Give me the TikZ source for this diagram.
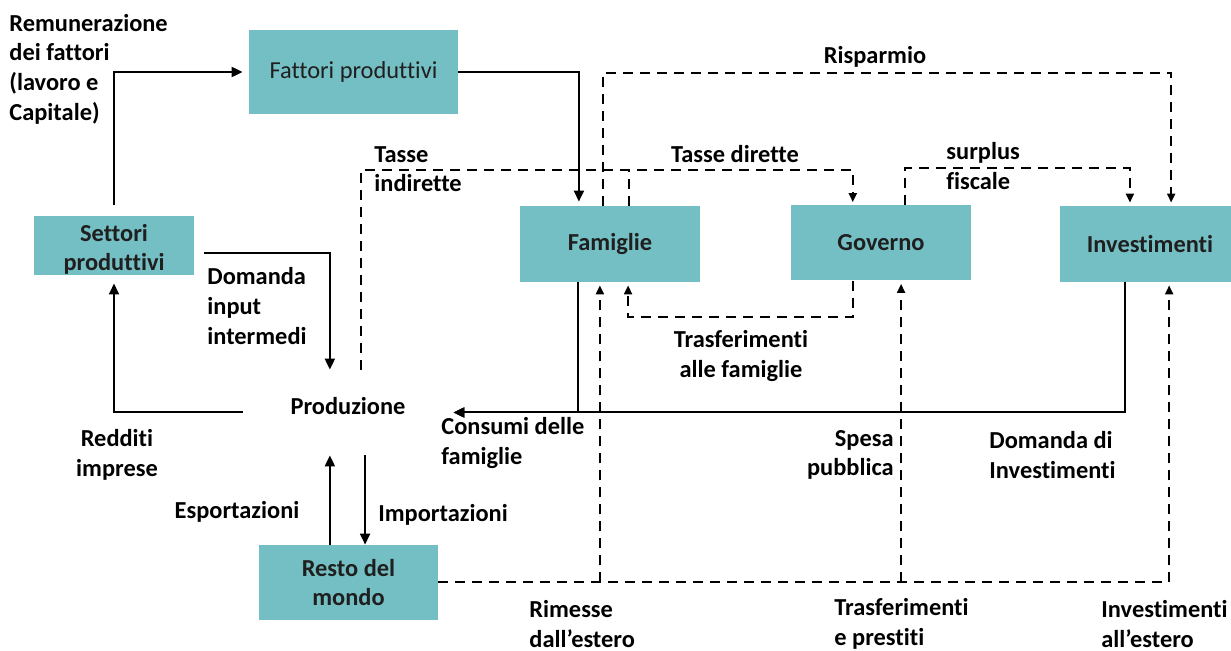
\documentclass[tikz,border=0pt]{standalone}
\usepackage{fontspec}
\setmainfont{Carlito}[Ligatures={TeX,NoCommon}]
\usetikzlibrary{arrows.meta,calc}
\definecolor{boxteal}{RGB}{116,191,196}
\begin{document}
\begin{tikzpicture}[x=0.5pt,y=-0.5pt,
  txt/.style={font=\fontsize{12.2}{14.8}\selectfont},
  sector/.style={txt, fill=boxteal, draw=none, inner sep=0pt, text=black!88,
    font=\fontsize{12.2}{14.8}\selectfont\bfseries, align=center},
  lbl/.style={txt, font=\fontsize{12.2}{14.8}\selectfont\bfseries, inner sep=0pt},
  flow/.style={line width=1pt, -{Triangle[length=5.5pt,width=5pt]}},
  dline/.style={line width=1pt, dash pattern=on 5pt off 3.5pt},
  dflow/.style={dline, -{Triangle[length=4.5pt,width=4pt]}, shorten >=1.5pt},
]
\useasboundingbox (0,0) rectangle (1231,651);

% sectors of the economy
\node[sector, font=\fontsize{12.2}{14.8}\selectfont\mdseries,
      minimum width=104.5pt, minimum height=42pt] (fattori) at (353.5,72) {Fattori produttivi};
\node[sector, minimum width=80pt, minimum height=29.5pt] (settori) at (114,245.5)
  {\raisebox{-2.25pt}[\height][\depth]{\begin{tabular}{@{}c@{}}Settori\\produttivi\end{tabular}}};
\node[sector, minimum width=90pt, minimum height=38pt] (famiglie) at (610,244) {Famiglie};
\node[sector, minimum width=90pt, minimum height=37.5pt] (governo) at (881,243) {Governo};
\node[sector, minimum width=90pt, minimum height=38pt] (invest) at (1150,244) {Investimenti};
\node[sector, minimum width=89.5pt, minimum height=37.5pt] (resto) at (348.5,582.5) {Resto del\\mondo};
\node[lbl, minimum width=105pt, minimum height=42.5pt] (produzione) at (348,412.5) {\raisebox{7pt}{Produzione}};

% attachment points along the box edges
\coordinate (famT1) at ($(famiglie.north west)!0.328!(famiglie.north east)$);
\coordinate (famT2) at ($(famiglie.north west)!0.461!(famiglie.north east)$);
\coordinate (famT3) at ($(famiglie.north west)!0.606!(famiglie.north east)$);
\coordinate (famB1) at ($(famiglie.south west)!0.322!(famiglie.south east)$);
\coordinate (famB2) at ($(famiglie.south west)!0.444!(famiglie.south east)$);
\coordinate (famB3) at ($(famiglie.south west)!0.600!(famiglie.south east)$);
\coordinate (govT1) at ($(governo.north west)!0.344!(governo.north east)$);
\coordinate (govT2) at ($(governo.north west)!0.633!(governo.north east)$);
\coordinate (govB1) at ($(governo.south west)!0.344!(governo.south east)$);
\coordinate (govB2) at ($(governo.south west)!0.611!(governo.south east)$);
\coordinate (invT1) at ($(invest.north west)!0.389!(invest.north east)$);
\coordinate (invT2) at ($(invest.north west)!0.617!(invest.north east)$);
\coordinate (invB1) at ($(invest.south west)!0.361!(invest.south east)$);
\coordinate (invB2) at ($(invest.south west)!0.606!(invest.south east)$);
\coordinate (prodT1) at ($(produzione.north west)!0.414!(produzione.north east)$);
\coordinate (prodT2) at ($(produzione.north west)!0.562!(produzione.north east)$);
\coordinate (prodB1) at ($(produzione.south west)!0.414!(produzione.south east)$);
\coordinate (prodB2) at ($(produzione.south west)!0.581!(produzione.south east)$);

% real flows (solid)
\draw[flow, shorten <=5pt, shorten >=3pt] (settori.north) |- (fattori.west);
\draw[flow, shorten >=2pt] (fattori.east) -| (famT1);
\draw[flow] ($(settori.east)+(10,7.5)$) -| (prodT1);
\draw[flow, shorten >=4pt] (produzione.west) -| (settori.south);
\draw[flow] (famB1) |- (produzione.east);
\draw[flow] (invB1) |- (produzione.east);
\draw[flow] (prodB1 |- resto.north) -- (prodB1);
\draw[flow] (prodB2) -- (prodB2 |- resto.north);

% monetary flows (dashed)
\draw[dflow] (prodT2) -- ++(0,-200) -| (govT1);
\draw[dline] (famT3) -- ++(0,-36);
\draw[dflow] (famT2) -- ++(0,-133) -| (invT2);
\draw[dflow] (govT2) -- ++(0,-37) -| (invT1);
\draw[dflow] (govB1) -- ++(0,36) -| (famB3);
\draw[dflow] (resto.east) -| (invB2);
\draw[dflow] (famB2 |- resto.east) -- (famB2);
\draw[dflow] (govB2 |- resto.east) -- (govB2);

% flow labels
\node[lbl, align=left, anchor=west] (lremun) at (9,69) {Remunerazione\\dei fattori\\(lavoro e\\Capitale)};
\node[lbl, align=left, anchor=west] (ltassei) at (374,169) {Tasse\\indirette};
\node[lbl] (ltassed) at (735,154) {Tasse dirette};
\node[lbl] (lrisp) at (875,57) {Risparmio};
\node[lbl, align=left, anchor=west] (lsurplus) at (946,166) {surplus\\fiscale};
\node[lbl, align=left, anchor=west] (ldomanda) at (207,306) {Domanda\\input\\intermedi};
\node[lbl, align=center] (lredditi) at (117,455) {Redditi\\imprese};
\node[lbl] (lesport) at (237,512) {Esportazioni};
\node[lbl] (limport) at (443,515) {Importazioni};
\node[lbl, align=left, anchor=west] (lconsumi) at (441,443) {Consumi delle\\famiglie};
\node[lbl, align=center] (ltrasf) at (741,356) {Trasferimenti\\alle famiglie};
\node[lbl, align=right, anchor=east] (lspesa) at (894,455) {Spesa\\pubblica};
\node[lbl, align=left, anchor=west] (ldominv) at (989,455) {Domanda di\\Investimenti};
\node[lbl, align=left, anchor=west] (lrimesse) at (529,624) {Rimesse\\dall’estero};
\node[lbl, align=left, anchor=west] (ltrpr) at (834,624) {Trasferimenti\\e prestiti};
\node[lbl, align=left, anchor=west] (linvest) at (1101,624) {Investimenti\\all’estero};
\end{tikzpicture}
\end{document}
